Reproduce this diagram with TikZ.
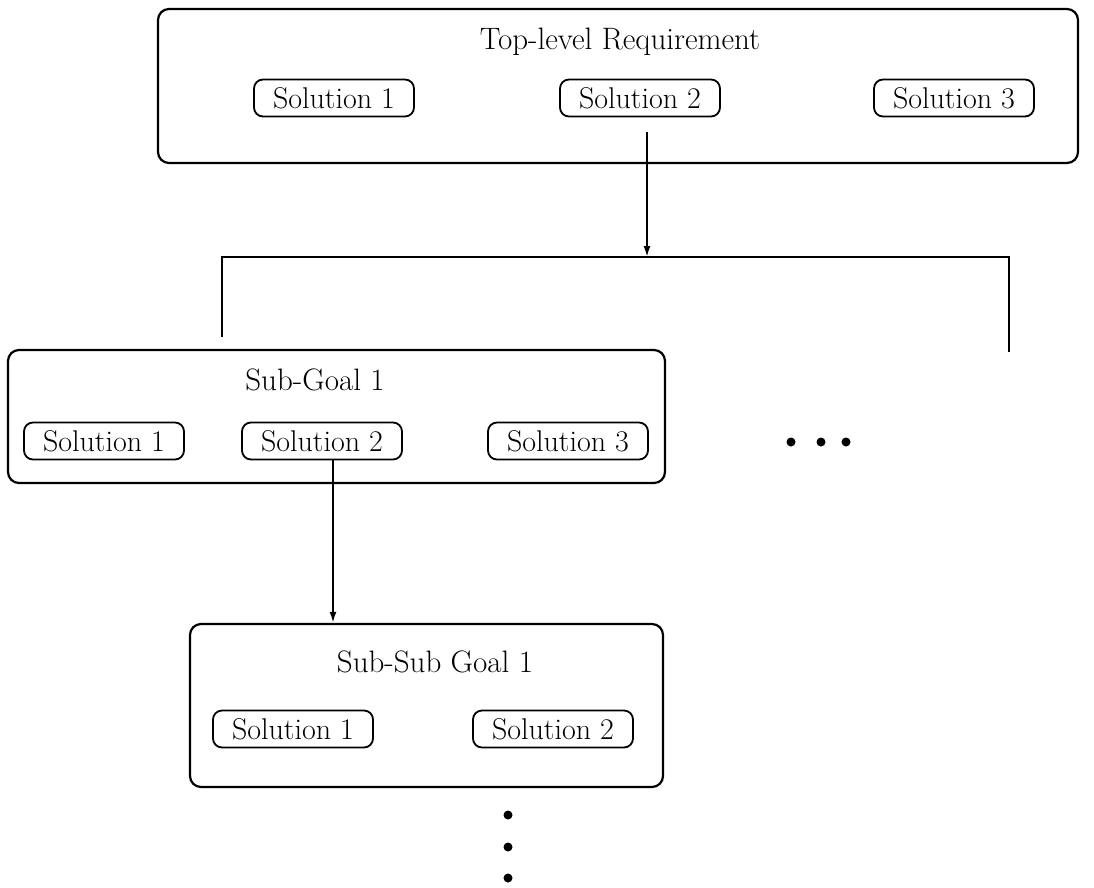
\documentclass[tikz,border=0pt]{standalone}
\usetikzlibrary{arrows.meta}
\begin{document}
\begin{tikzpicture}[x=1pt,y=-1pt,
 bigbox/.style={draw, line width=2.2pt, rounded corners=11pt, inner sep=0pt},
 solbox/.style={draw, line width=1.8pt, rounded corners=9pt, minimum width=160pt, minimum height=37pt, inner sep=0pt, font=\fontsize{30}{33}\selectfont},
 title/.style={font=\fontsize{31}{34}\selectfont, inner sep=0pt},
 conn/.style={line width=1.9pt},
 arr/.style={conn, -{Latex[length=11pt,width=7pt]}},
 dot/.style={circle, fill, inner sep=0pt, minimum size=9pt}]
\useasboundingbox (0,0) rectangle (1094,887);
% top level
\node[bigbox, minimum width=920pt, minimum height=154pt] (top) at (618,86) {};
\node[title] (toptitle) at (620,42) {Top-level Requirement};
\node[solbox] (t1) at (334,98) {Solution 1};
\node[solbox] (t2) at (640,98) {Solution 2};
\node[solbox] (t3) at (954,98) {Solution 3};
\coordinate (a1) at (647,132);
\coordinate (j) at (647,257);
\coordinate (bl) at (222,257);
\coordinate (br) at (1009,257);
\coordinate (bl2) at (222,337);
\coordinate (br2) at (1009,352);
\draw[arr] (a1) -- (j);
\draw[conn] (bl2) -- (bl) -- (br) -- (br2);
% sub-goal
\node[bigbox, minimum width=657pt, minimum height=133pt] (sg) at (336.5,416.5) {};
\node[title] (sgtitle) at (315,380) {Sub-Goal 1};
\node[solbox] (s1) at (104,441) {Solution 1};
\node[solbox] (s2) at (322,441) {Solution 2};
\node[solbox] (s3) at (568,441) {Solution 3};
\node[dot] (h1) at (791,442) {};
\node[dot] (h2) at (821,442) {};
\node[dot] (h3) at (846,442) {};
% sub-sub goal
\node[bigbox, minimum width=473pt, minimum height=163pt] (ssg) at (426.5,705.5) {};
\node[title] (ssgtitle) at (435,662) {Sub-Sub Goal 1};
\node[solbox] (u1) at (293,729) {Solution 1};
\node[solbox] (u2) at (553,729) {Solution 2};
\coordinate (a2) at (333,460);
\draw[arr] (a2) -- (a2 |- ssg.north);
\node[dot] (v1) at (508,815) {};
\node[dot] (v2) at (508,847) {};
\node[dot] (v3) at (508,878) {};
\end{tikzpicture}
\end{document}
